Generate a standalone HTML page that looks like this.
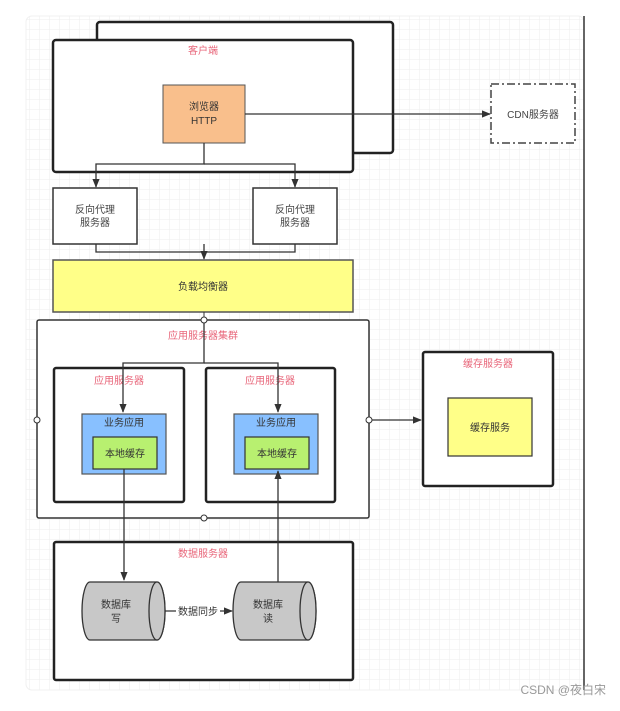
<!DOCTYPE html>
<html><head><meta charset="utf-8"><style>
body{margin:0;width:620px;height:706px;background:#fff;overflow:hidden;font-family:"Liberation Sans","Noto Sans CJK SC",sans-serif}
</style></head><body>
<svg width="620" height="706" xmlns="http://www.w3.org/2000/svg" font-family="Liberation Sans, Noto Sans CJK SC, sans-serif">
<defs>
<pattern id="g" width="10" height="10" patternUnits="userSpaceOnUse"><path d="M10 0V10H0" fill="none" stroke="#eeeeee" stroke-width="1"/></pattern>
<marker id="a" viewBox="0 0 10 10" refX="9" refY="5" markerWidth="7" markerHeight="7" orient="auto"><path d="M0 1L10 5L0 9z" fill="#333"/></marker>
</defs>
<rect x="26" y="16" width="558" height="674" rx="6" fill="url(#g)" stroke="#f0f0f0"/>
<line x1="584" y1="16" x2="584" y2="690" stroke="#333" stroke-width="1.5"/>
<g stroke="#222" stroke-width="2.5" fill="#fff">
<rect x="97" y="22" width="296" height="131" rx="3"/>
<rect x="53" y="40" width="300" height="132" rx="3"/>
</g>
<text x="203" y="54" font-size="10" fill="#e8667a" text-anchor="middle">客户端</text>
<rect x="163" y="85" width="82" height="58" fill="#f9bf8c" stroke="#555"/>
<text x="204" y="110" font-size="10" fill="#333" text-anchor="middle">浏览器</text>
<text x="204" y="124" font-size="10" fill="#333" text-anchor="middle">HTTP</text>
<rect x="491" y="84" width="84" height="59" fill="#fff" stroke="#444" stroke-width="1.5" stroke-dasharray="8,3,2,3"/>
<text x="533" y="118" font-size="10" fill="#444" text-anchor="middle">CDN服务器</text>
<g stroke="#333" stroke-width="1.3" fill="none">
<line x1="245" y1="114" x2="490" y2="114" marker-end="url(#a)"/>
<path d="M204 143V164H96V187" marker-end="url(#a)"/>
<path d="M204 164H295V187" marker-end="url(#a)"/>
<path d="M96 244V252H295V244"/>
<line x1="204" y1="244" x2="204" y2="259" marker-end="url(#a)"/>
</g>
<g stroke="#333" stroke-width="1.5" fill="#fff">
<rect x="53" y="188" width="84" height="56"/>
<rect x="253" y="188" width="84" height="56"/>
</g>
<text x="95" y="213" font-size="10" fill="#444" text-anchor="middle">反向代理</text>
<text x="95" y="226" font-size="10" fill="#444" text-anchor="middle">服务器</text>
<text x="295" y="213" font-size="10" fill="#444" text-anchor="middle">反向代理</text>
<text x="295" y="226" font-size="10" fill="#444" text-anchor="middle">服务器</text>
<rect x="53" y="260" width="300" height="52" fill="#ffff88" stroke="#555" stroke-width="1.5"/>
<text x="203" y="290" font-size="10" fill="#333" text-anchor="middle">负载均衡器</text>
<rect x="37" y="320" width="332" height="198" rx="2" fill="#fff" stroke="#333" stroke-width="1.5"/>
<line x1="204" y1="312" x2="204" y2="320" stroke="#333"/>
<text x="203" y="339" font-size="10" fill="#e8667a" text-anchor="middle">应用服务器集群</text>
<g stroke="#222" stroke-width="2.5" fill="#fff">
<rect x="54" y="368" width="130" height="134" rx="2"/>
<rect x="206" y="368" width="129" height="134" rx="2"/>
<rect x="423" y="352" width="130" height="134" rx="2"/>
<rect x="54" y="542" width="299" height="138" rx="2"/>
</g>
<text x="119" y="384" font-size="10" fill="#e8667a" text-anchor="middle">应用服务器</text>
<text x="270" y="384" font-size="10" fill="#e8667a" text-anchor="middle">应用服务器</text>
<text x="488" y="367" font-size="10" fill="#e8667a" text-anchor="middle">缓存服务器</text>
<text x="203" y="557" font-size="10" fill="#e8667a" text-anchor="middle">数据服务器</text>
<g stroke="#555" stroke-width="1.2">
<rect x="82" y="414" width="84" height="60" fill="#88c0ff"/>
<rect x="234" y="414" width="84" height="60" fill="#88c0ff"/>
<rect x="93" y="437" width="64" height="32" fill="#b8f070" stroke="#333"/>
<rect x="245" y="437" width="64" height="32" fill="#b8f070" stroke="#333"/>
<rect x="448" y="398" width="84" height="58" fill="#ffff88" stroke="#333"/>
</g>
<text x="124" y="426" font-size="10" fill="#333" text-anchor="middle">业务应用</text>
<text x="276" y="426" font-size="10" fill="#333" text-anchor="middle">业务应用</text>
<text x="125" y="457" font-size="10" fill="#333" text-anchor="middle">本地缓存</text>
<text x="277" y="457" font-size="10" fill="#333" text-anchor="middle">本地缓存</text>
<text x="490" y="431" font-size="10" fill="#333" text-anchor="middle">缓存服务</text>
<g stroke="#333" stroke-width="1.3" fill="none">
<path d="M204 320V363H123V412" marker-end="url(#a)"/>
<path d="M204 363H278V412" marker-end="url(#a)"/>
<line x1="369" y1="420" x2="421" y2="420" marker-end="url(#a)"/>
<line x1="124" y1="469" x2="124" y2="580" marker-end="url(#a)"/>
<line x1="278" y1="582" x2="278" y2="471" marker-end="url(#a)"/>
<line x1="164" y1="611" x2="232" y2="611" marker-end="url(#a)"/>
</g>
<g fill="#fff" stroke="#333">
<circle cx="204" cy="320" r="3"/><circle cx="37" cy="420" r="3"/><circle cx="369" cy="420" r="3"/><circle cx="204" cy="518" r="3"/>
</g>
<g fill="#c8c8c8" stroke="#333" stroke-width="1.3">
<path d="M90 582H157A8 29 0 0 1 157 640H90A8 29 0 0 1 90 582Z"/>
<ellipse cx="157" cy="611" rx="8" ry="29"/>
<path d="M241 582H308A8 29 0 0 1 308 640H241A8 29 0 0 1 241 582Z"/>
<ellipse cx="308" cy="611" rx="8" ry="29"/>
</g>
<text x="116" y="608" font-size="10" fill="#333" text-anchor="middle">数据库</text>
<text x="116" y="622" font-size="10" fill="#333" text-anchor="middle">写</text>
<text x="268" y="608" font-size="10" fill="#333" text-anchor="middle">数据库</text>
<text x="268" y="622" font-size="10" fill="#333" text-anchor="middle">读</text>
<rect x="176" y="604" width="44" height="14" fill="#fff"/>
<text x="198" y="615" font-size="10" fill="#333" text-anchor="middle">数据同步</text>
<text x="606" y="694" font-size="12" fill="#999" text-anchor="end">CSDN @夜白宋</text>
</svg>
</body></html>
